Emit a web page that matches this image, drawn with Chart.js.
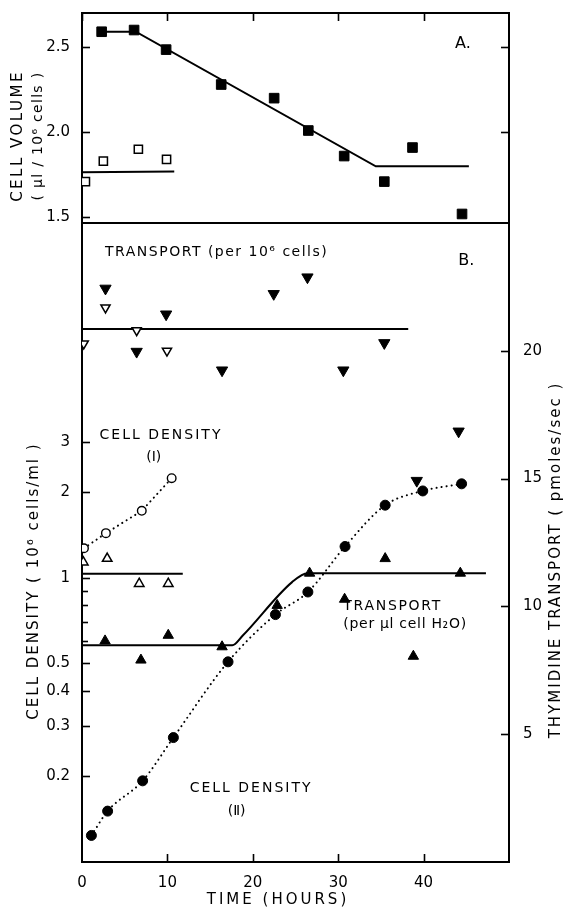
<!DOCTYPE html>
<html>
<head>
<meta charset="utf-8">
<script src="https://cdn.jsdelivr.net/npm/chart.js@4.4.0/dist/chart.umd.min.js"></script>
<style>
  html, body { margin: 0; padding: 0; background: #fff; }
  #wrap { position: relative; width: 566px; height: 911px; }
  #wrap canvas { position: absolute; left: 0; top: 0; }
</style>
</head>
<body>
<div id="wrap">
  <canvas id="panelA" width="566" height="240"></canvas>
  <canvas id="panelB" width="566" height="911"></canvas>
</div>
<script>
// ---- panel A : cell volume (ul / 10^6 cells) ----
const volFilledHours = [2.3, 6.1, 9.85, 16.3, 22.5, 26.5, 30.7, 35.4, 38.7, 44.5];
const volFilled      = [2.59, 2.60, 2.485, 2.28, 2.20, 2.01, 1.86, 1.71, 1.91, 1.52];
const volOpenHours   = [0.4, 2.5, 6.6, 9.9];
const volOpen        = [1.71, 1.83, 1.90, 1.84];
const volFitHours    = [2.3, 6.3, 34.4, 45.3];
const volFit         = [2.59, 2.59, 1.80, 1.80];
const volOpenFitHours = [0, 10.8];
const volOpenFit      = [1.765, 1.77];

// ---- panel B : transport per 10^6 cells (right axis) ----
const trCellHours   = [2.75, 6.4, 9.85, 16.4, 22.45, 26.4, 30.6, 35.4, 39.2, 44.1];
const trCell        = [22.44, 19.97, 21.43, 19.24, 22.23, 22.88, 19.24, 20.31, 14.92, 16.85];
const trCellOpenHours = [0.2, 2.75, 6.4, 9.95];
const trCellOpen      = [20.28, 21.69, 20.80, 20.0];
const trCellFitHours  = [0, 38.2];
const trCellFit       = [20.85, 20.85];

// ---- panel B : transport per ul cell water (right axis) ----
const trH2oHours   = [2.7, 6.9, 10.1, 16.4, 22.85, 26.65, 30.75, 35.5, 38.8, 44.3];
const trH2o        = [8.65, 7.9, 8.87, 8.42, 10.04, 11.3, 10.28, 11.87, 8.05, 11.3];
const trH2oOpenHours = [0.15, 2.95, 6.7, 10.1];
const trH2oOpen      = [11.73, 11.87, 10.89, 10.89];
const trH2oOpenFitHours = [0, 11.8];
const trH2oOpenFit      = [11.28, 11.28];
const trH2oFitHours = [0, 17.6, 18.8, 24.6, 26.4, 47.3];
const trH2oFit      = [8.48, 8.48, 8.85, 10.95, 11.3, 11.3];

// ---- panel B : cell density (10^6 cells/ml, log axis) ----
const densIHours  = [0.23, 2.8, 7.0, 10.5];
const densI       = [1.27, 1.435, 1.72, 2.24];
const densIIHours = [1.1, 3.0, 7.1, 10.7, 17.1, 22.65, 26.45, 30.8, 35.5, 39.9, 44.45];
const densII      = [0.124, 0.151, 0.193, 0.274, 0.506, 0.742, 0.891, 1.288, 1.80, 2.02, 2.14];

// ---- ticks ----
const hourTicks      = [0, 10, 20, 30, 40];
const volTicks       = [1.5, 2.0, 2.5];
const volRightTicks  = [2.0, 2.5];
const densityTicks   = [0.2, 0.3, 0.4, 0.5, 0.6, 0.7, 0.8, 0.9, 1, 2, 3];
const densityMinor   = [0.6, 0.7, 0.8, 0.9];
const transportTicks = [5, 10, 15, 20];

const INK = '#000';
const FONT = 'DejaVu Sans';

function pts(xs, ys){ return xs.map((x,i)=>({x, y: ys[i]})); }
function setTicks(vals){ return s => { s.ticks = vals.map(v=>({value:v})); }; }

// inward tick marks + free text (labels, axis titles)
const paper = {
  id: 'paper',
  afterDraw(chart, args, opts){
    const ctx = chart.ctx, a = chart.chartArea;
    ctx.save();
    ctx.strokeStyle = INK; ctx.lineWidth = 1.6;
    (opts.ticks||[]).forEach(t=>{
      const s = chart.scales[t.scale];
      s.ticks.forEach(tk=>{
        if((t.skip||[]).includes(tk.value)) return;
        const p = Math.round(s.getPixelForValue(tk.value)) + 0.5;
        const len = (t.minor||[]).includes(tk.value) ? 6 : 8;
        ctx.beginPath();
        if(t.side==='top'){ ctx.moveTo(p,a.top); ctx.lineTo(p,a.top+len); }
        if(t.side==='bottom'){ ctx.moveTo(p,a.bottom); ctx.lineTo(p,a.bottom-len); }
        if(t.side==='left'){ ctx.moveTo(a.left,p); ctx.lineTo(a.left+len,p); }
        if(t.side==='right'){ ctx.moveTo(a.right,p); ctx.lineTo(a.right-len,p); }
        ctx.stroke();
      });
    });
    ctx.fillStyle = INK;
    (opts.texts||[]).forEach(t=>{
      const x = t.sx ? chart.scales[t.sx].getPixelForValue(t.x) : t.px;
      const y = t.sy ? chart.scales[t.sy].getPixelForValue(t.y) : t.py;
      ctx.save();
      ctx.font = (t.size||14)+'px "'+FONT+'"';
      ctx.letterSpacing = (t.ls||0)+'px';
      ctx.textAlign = t.align||'center';
      ctx.textBaseline = 'middle';
      ctx.translate(x,y);
      if(t.rot) ctx.rotate(-Math.PI/2);
      ctx.fillText(t.text,0,0);
      ctx.restore();
    });
    ctx.restore();
  }
};

const tickFont = {family: FONT, size: 15};
const axisBorder = {display:true, color: INK, width: 2};
const dotted = {borderDash:[0.1, 5], borderCapStyle:'round', borderWidth:2};

// ---------- panel A ----------
new Chart(document.getElementById('panelA'), {
  type: 'scatter',
  data: { datasets: [
    { data: pts(volFilledHours, volFilled), pointStyle:'rect', pointRadius:6.8,
      backgroundColor: INK, borderColor: INK, borderWidth:1 },
    { data: pts(volOpenHours, volOpen), pointStyle:'rect', pointRadius:5.8,
      backgroundColor:'#fff', borderColor: INK, borderWidth:1.5 },
    { data: pts(volFitHours, volFit), showLine:true, pointRadius:0, borderColor: INK, borderWidth:2 },
    { data: pts(volOpenFitHours, volOpenFit), showLine:true, pointRadius:0, borderColor: INK, borderWidth:2 }
  ]},
  options: {
    responsive:false, animation:false,
    layout:{ padding:{ left:0, right:57, top:0, bottom:17 } },
    plugins:{
      legend:{display:false}, tooltip:{enabled:false},
      paper:{
        ticks:[ {scale:'xTop', side:'top'}, {scale:'y', side:'left'}, {scale:'yR', side:'right'} ],
        texts:[
          {text:'A.', sx:'x', sy:'y', x:44.6, y:2.52, size:16},
          {text:'CELL VOLUME', px:18, py:136, rot:true, size:15, ls:2.5},
          {text:'( µl / 10⁶ cells )', px:38, py:136, rot:true, size:14, ls:1.3}
        ]
      }
    },
    scales:{
      x:{ type:'linear', position:'bottom', min:0, max:50, grid:{display:false}, border:axisBorder,
          ticks:{display:false}, afterFit: s=>{ s.height = 0; } },
      xTop:{ type:'linear', position:'top', min:0, max:50, grid:{display:false}, border:axisBorder,
          ticks:{display:false}, afterBuildTicks: setTicks(hourTicks), afterFit: s=>{ s.height = 8; } },
      y:{ type:'linear', position:'left', min:1.467, max:2.70, grid:{display:false}, border:axisBorder,
          afterBuildTicks: setTicks(volTicks),
          ticks:{ color:INK, font:tickFont, padding:4, autoSkip:false, callback: v=>v.toFixed(1) },
          afterFit: s=>{ s.width = 82; } },
      yR:{ type:'linear', position:'right', min:1.467, max:2.70, grid:{display:false}, border:axisBorder,
          afterBuildTicks: setTicks(volRightTicks), ticks:{display:false}, afterFit: s=>{ s.width = 0; } }
    }
  },
  plugins:[paper]
});

// ---------- panel B ----------
new Chart(document.getElementById('panelB'), {
  type: 'scatter',
  data: { datasets: [
    { data: pts(trCellHours, trCell), yAxisID:'yR', pointStyle:'triangle', rotation:180, pointRadius:6.5,
      backgroundColor: INK, borderColor: INK, borderWidth:1 },
    { data: pts(trCellOpenHours, trCellOpen), yAxisID:'yR', pointStyle:'triangle', rotation:180, pointRadius:5.3,
      backgroundColor:'#fff', borderColor: INK, borderWidth:1.5 },
    { data: pts(densIIHours, densII), yAxisID:'yLog', pointStyle:'circle', pointRadius:5,
      backgroundColor: INK, borderColor: INK, pointBorderWidth:1,
      showLine:true, ...dotted, cubicInterpolationMode:'monotone' },
    { data: pts(densIHours, densI), yAxisID:'yLog', pointStyle:'circle', pointRadius:4.3,
      backgroundColor:'#fff', borderColor: INK, pointBorderWidth:1.4,
      showLine:true, ...dotted },
    { data: pts(trH2oHours, trH2o), yAxisID:'yR', pointStyle:'triangle', pointRadius:6,
      backgroundColor: INK, borderColor: INK, borderWidth:1 },
    { data: pts(trH2oOpenHours, trH2oOpen), yAxisID:'yR', pointStyle:'triangle', pointRadius:5.5,
      backgroundColor:'#fff', borderColor: INK, borderWidth:1.5 },
    { data: pts(trCellFitHours, trCellFit), yAxisID:'yR', showLine:true, pointRadius:0, borderColor: INK, borderWidth:2 },
    { data: pts(trH2oOpenFitHours, trH2oOpenFit), yAxisID:'yR', showLine:true, pointRadius:0, borderColor: INK, borderWidth:2 },
    { data: pts(trH2oFitHours, trH2oFit), yAxisID:'yR', showLine:true, pointRadius:0, borderColor: INK, borderWidth:2,
      cubicInterpolationMode:'monotone' }
  ]},
  options: {
    responsive:false, animation:false,
    layout:{ padding:{ left:0, right:0, top:223, bottom:0 } },
    plugins:{
      legend:{display:false}, tooltip:{enabled:false},
      paper:{
        ticks:[ {scale:'x', side:'bottom', skip:[0]},
                {scale:'yLog', side:'left', minor:densityMinor},
                {scale:'yR', side:'right'} ],
        texts:[
          {text:'TRANSPORT (per 10⁶ cells)', sx:'x', sy:'yR', x:2.7, y:23.86, align:'left', size:14, ls:1.5},
          {text:'B.', sx:'x', sy:'yR', x:45.0, y:23.5, size:16},
          {text:'CELL DENSITY', sx:'x', sy:'yR', x:9.25, y:16.68, size:14, ls:2},
          {text:'(Ⅰ)', sx:'x', sy:'yR', x:8.4, y:15.83, size:14},
          {text:'TRANSPORT', sx:'x', sy:'yR', x:30.6, y:10.0, align:'left', size:14, ls:1.7},
          {text:'(per µl cell H₂O)', sx:'x', sy:'yR', x:30.6, y:9.3, align:'left', size:14, ls:0.7},
          {text:'CELL DENSITY', sx:'x', sy:'yR', x:19.8, y:2.89, size:14, ls:2},
          {text:'(Ⅱ)', sx:'x', sy:'yR', x:18.1, y:1.97, size:14},
          {text:'CELL DENSITY ( 10⁶ cells/ml )', px:34, py:581, rot:true, size:15, ls:2},
          {text:'THYMIDINE TRANSPORT ( pmoles/sec )', px:556, py:560, rot:true, size:15, ls:2},
          {text:'TIME (HOURS)', px:278, py:900, size:15, ls:3}
        ]
      }
    },
    scales:{
      x:{ type:'linear', position:'bottom', min:0, max:50, grid:{display:false}, border:axisBorder,
          afterBuildTicks: setTicks(hourTicks),
          ticks:{ color:INK, font:tickFont, padding:4, autoSkip:false, maxRotation:0 },
          afterFit: s=>{ s.height = 49; } },
      yLog:{ type:'logarithmic', position:'left', min:0.1, max:17.7, grid:{display:false}, border:axisBorder,
          afterBuildTicks: setTicks(densityTicks),
          ticks:{ color:INK, font:tickFont, padding:4, autoSkip:false,
                  callback: v => densityMinor.includes(v) ? '' : String(v) },
          afterFit: s=>{ s.width = 82; } },
      yR:{ type:'linear', position:'right', min:0, max:25, grid:{display:false}, border:axisBorder,
          afterBuildTicks: setTicks(transportTicks),
          ticks:{ color:INK, font:tickFont, padding:6, autoSkip:false },
          afterFit: s=>{ s.width = 57; } }
    }
  },
  plugins:[paper]
});
</script>
</body>
</html>
